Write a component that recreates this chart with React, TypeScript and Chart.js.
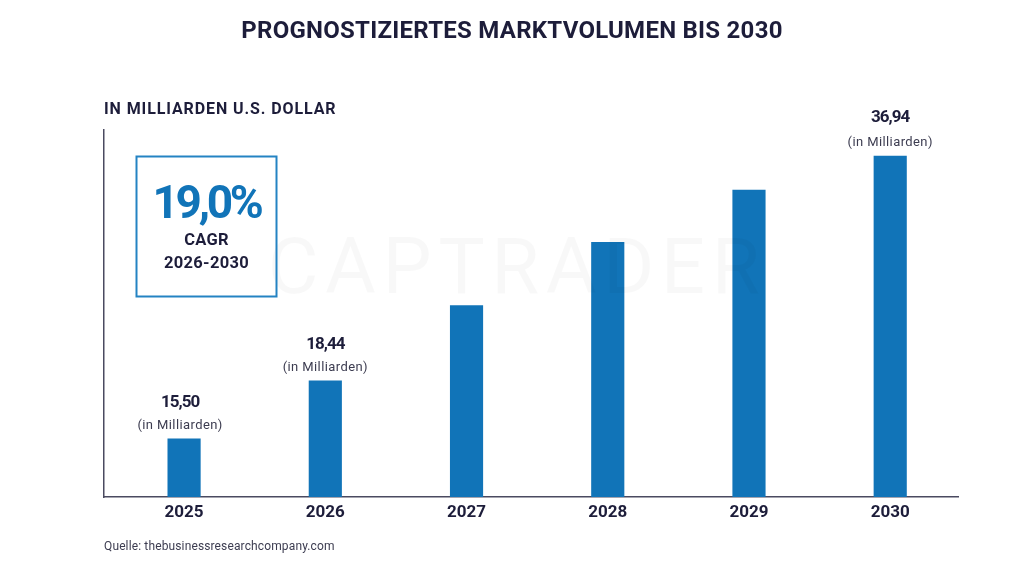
import React, { useRef, useEffect } from 'react';
import { Chart, registerables } from 'chart.js';

Chart.register(...registerables);

const years = [2025, 2026, 2027, 2028, 2029, 2030];
// bar levels, the original bars are not to scale with their labels
const barLevels = [58, 116, 191, 254, 306, 340];
const valueLabels = ['15,50', '18,44', '', '', '', '36,94'];
const unitLabel = '(in Milliarden)';

const TITLE = 'PROGNOSTIZIERTES MARKTVOLUMEN BIS 2030';
const NAVY = '#1d1d3a';
const BLUE = '#1174b8';
const FONT = 'Roboto';

const text = (
  ctx: CanvasRenderingContext2D,
  str: string,
  x: number,
  y: number,
  font: string,
  color: string,
  align: CanvasTextAlign = 'center',
  spacing = '0px',
) => {
  ctx.save();
  ctx.font = font;
  ctx.fillStyle = color;
  ctx.textAlign = align;
  ctx.textBaseline = 'alphabetic';
  (ctx as any).letterSpacing = spacing;
  ctx.fillText(str, x, y);
  ctx.restore();
};

const annotations = {
  id: 'annotations',
  afterDatasetsDraw(chart: Chart) {
    const ctx = chart.ctx;
    // watermark lies faintly over the bars
    text(ctx, 'CAPTRADER', 517, 293, `400 78px ${FONT}`, 'rgba(0,0,0,0.028)', 'center', '6.5px');

    text(ctx, TITLE, 512, 38, `700 24px ${FONT}`, NAVY, 'center', '0.25px');
    text(ctx, 'IN MILLIARDEN U.S. DOLLAR', 104, 114, `700 16px ${FONT}`, NAVY, 'left', '0.9px');
    text(ctx, 'Quelle: thebusinessresearchcompany.com', 104, 550, `400 12px ${FONT}`, '#3c3c50', 'left', '0.13px');

    // CAGR box
    ctx.save();
    ctx.strokeStyle = '#2483c3';
    ctx.lineWidth = 2;
    ctx.strokeRect(136.5, 156.5, 140, 140);
    ctx.restore();
    text(ctx, '19,0%', 206.5, 218, `700 46px ${FONT}`, BLUE, 'center', '-3.3px');
    text(ctx, 'CAGR', 206.5, 245, `700 16.5px ${FONT}`, NAVY, 'center', '0.2px');
    text(ctx, '2026-2030', 206.5, 268, `700 16.5px ${FONT}`, NAVY, 'center', '0.3px');

    // value labels above the labelled bars, the first one sits a little left of its bar
    const meta = chart.getDatasetMeta(0);
    valueLabels.forEach((label, i) => {
      if (!label) return;
      const bar = meta.data[i];
      const x = i === 0 ? bar.x - 4 : bar.x;
      const gap = i === 5 ? 34 : 32;
      text(ctx, label, x, bar.y - gap, `700 17px ${FONT}`, NAVY, 'center', '-1px');
      text(ctx, unitLabel, x, bar.y - 10, `400 13px ${FONT}`, '#3c3c50', 'center', '0.4px');
    });
  },
};

const App: React.FC = () => {
  const chartRef = useRef<HTMLCanvasElement>(null);
  const chartInstance = useRef<Chart | null>(null);

  useEffect(() => {
    if (!chartRef.current) return;
    const ctx = chartRef.current.getContext('2d');
    if (!ctx) return;

    chartInstance.current = new Chart(ctx, {
      type: 'bar',
      data: {
        datasets: [
          {
            data: years.map((year, i) => ({ x: year, y: barLevels[i] })),
            backgroundColor: BLUE,
            barThickness: 32.5,
          },
        ],
      },
      options: {
        responsive: false,
        animation: false,
        layout: { padding: { left: 104, right: 66, top: 130, bottom: 40.5 } },
        plugins: {
          legend: { display: false },
          title: { display: false },
          tooltip: { enabled: false },
        },
        scales: {
          x: {
            type: 'linear',
            offset: false,
            min: 2024.433,
            max: 2030.48,
            grid: { display: false, drawTicks: false },
            border: { color: '#4a4a60', width: 1.5 },
            afterBuildTicks: (axis) => {
              axis.ticks = years.map((value) => ({ value }));
            },
            ticks: {
              callback: (value) => String(value),
              color: NAVY,
              padding: 5,
              maxRotation: 0,
              autoSkip: false,
              font: { family: FONT, size: 17, weight: 'bold' },
            },
          },
          y: {
            min: 0,
            max: 366,
            grid: { display: false, drawTicks: false },
            border: { color: '#4a4a60', width: 1.5 },
            ticks: { display: false },
            afterFit: (axis) => {
              axis.width = 0;
            },
          },
        },
      },
      plugins: [annotations],
    });

    return () => {
      if (chartInstance.current) {
        chartInstance.current.destroy();
        chartInstance.current = null;
      }
    };
  }, []);

  return (
    <div style={{ position: 'absolute', left: 0, top: 0, width: 1024, height: 568 }}>
      <canvas ref={chartRef} width={1024} height={568} />
    </div>
  );
};

export default App;
